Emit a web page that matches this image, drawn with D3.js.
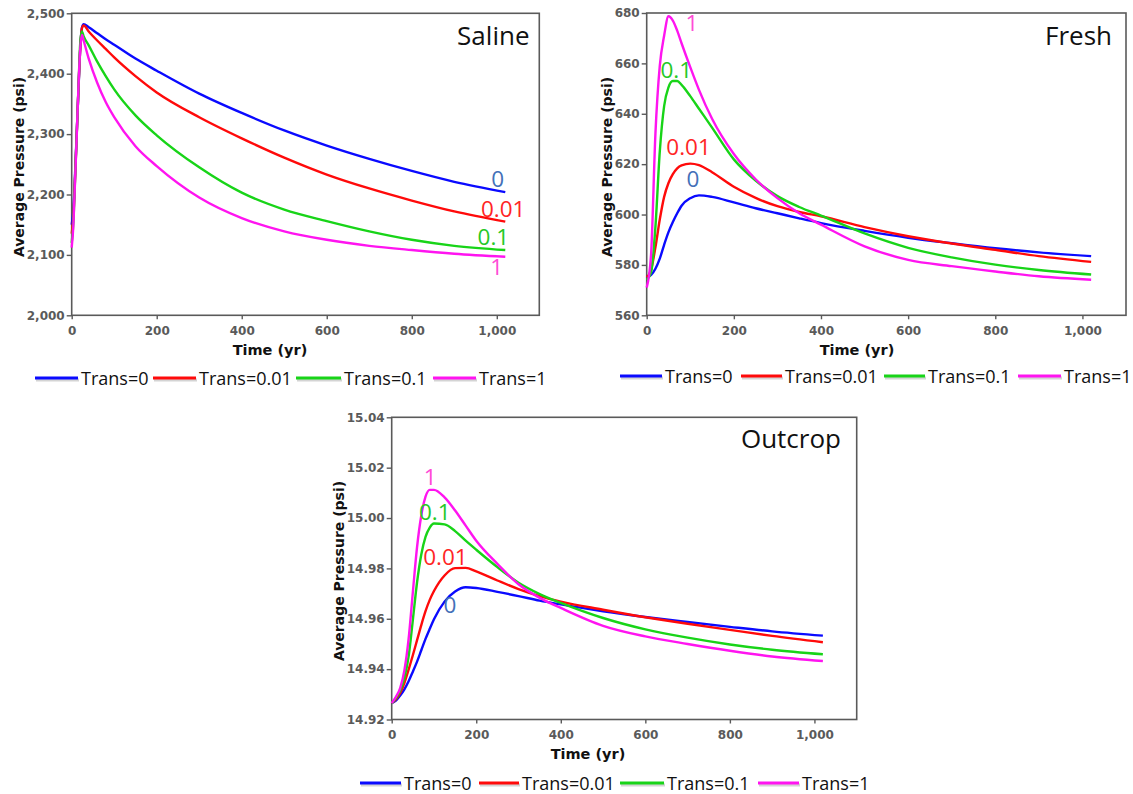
<!DOCTYPE html>
<html>
<head>
<meta charset="utf-8">
<script src="https://cdn.jsdelivr.net/npm/d3@7"></script>
<style>
  html, body { margin: 0; padding: 0; background: #ffffff; }
  svg { display: block; }
</style>
</head>
<body>
<svg id="chart" width="1133" height="794"></svg>
<script>
// ---- data -------------------------------------------------------------
const seriesNames = ["Trans=0", "Trans=0.01", "Trans=0.1", "Trans=1"];
const seriesTags  = ["0", "0.01", "0.1", "1"];
const xTicks = [0, 200, 400, 600, 800, 1000];

// Saline aquifer
const salineTime = [0, 4, 8, 12, 16, 20, 24, 28, 40, 60, 80, 100, 150, 200, 300, 400, 500, 600, 700, 800, 900, 1020];
const salineTrans0   = [2150, 2175, 2235, 2305, 2375, 2440, 2476, 2482, 2477, 2467, 2457, 2448, 2425, 2405, 2367, 2335, 2306, 2281, 2259, 2239, 2221, 2204];
const salineTrans001 = [2135, 2165, 2230, 2303, 2377, 2440, 2475, 2480, 2470, 2455, 2441, 2427, 2396, 2369, 2328, 2293, 2261, 2233, 2210, 2190, 2172, 2155];
const salineTrans01  = [2120, 2155, 2228, 2302, 2378, 2450, 2470, 2462, 2447, 2420, 2396, 2374, 2331, 2298, 2245, 2203, 2175, 2156, 2139, 2125, 2115, 2108];
const salineTrans1   = [2112, 2150, 2225, 2300, 2380, 2440, 2464, 2455, 2425, 2385, 2353, 2328, 2280, 2247, 2195, 2161, 2139, 2125, 2115, 2108, 2102, 2097];
const salineYTicks = [2000, 2100, 2200, 2300, 2400, 2500];

// Fresh-water aquifer
const freshTime = [0, 10, 20, 30, 40, 50, 60, 70, 80, 100, 120, 150, 200, 250, 300, 350, 400, 500, 600, 700, 800, 900, 1020];
const freshTrans0   = [575, 576, 578.5, 582.5, 588, 593, 597, 600.5, 603.5, 606.5, 607.6, 607, 604.8, 602.5, 600.5, 598.5, 596.6, 593.5, 590.8, 588.6, 586.6, 585, 583.5];
const freshTrans001 = [575, 578, 587, 598, 607, 612.5, 616, 618.3, 619.5, 620.2, 619.6, 616.8, 611, 606.6, 603.3, 601, 599.3, 595, 591.4, 588.5, 586, 583.5, 581.2];
const freshTrans01  = [574, 577, 595, 625, 643, 650.5, 653, 653, 651.5, 647, 642, 634.5, 621.9, 613.5, 607.3, 603, 599.6, 592.5, 586.8, 583, 580.1, 578, 576.2];
const freshTrans1   = [571, 584, 632, 659, 671, 678.7, 677, 673, 668, 658.5, 649.5, 638, 624, 614, 606.5, 600.5, 596, 587.4, 582, 579.5, 577.4, 575.5, 574.1];
const freshYTicks = [560, 580, 600, 620, 640, 660, 680];

// Outcrop
const outcropTime = [0, 10, 20, 30, 40, 50, 60, 70, 80, 90, 100, 125, 150, 175, 200, 250, 300, 350, 400, 500, 600, 700, 800, 900, 1020];
const outcropTrans0   = [14.9265, 14.9275, 14.9295, 14.932, 14.9352, 14.939, 14.943, 14.9475, 14.952, 14.956, 14.9598, 14.9668, 14.9708, 14.9725, 14.9722, 14.9707, 14.969, 14.9672, 14.9657, 14.963, 14.9607, 14.9587, 14.9568, 14.955, 14.9533];
const outcropTrans001 = [14.9265, 14.928, 14.9305, 14.9345, 14.9398, 14.9455, 14.9515, 14.9575, 14.963, 14.9675, 14.971, 14.9772, 14.9801, 14.9802, 14.9788, 14.9752, 14.9718, 14.969, 14.9668, 14.9636, 14.9606, 14.958, 14.9556, 14.9532, 14.9507];
const outcropTrans01  = [14.9265, 14.9285, 14.9315, 14.9365, 14.945, 14.9595, 14.9745, 14.9855, 14.9925, 14.9962, 14.9978, 14.9975, 14.9948, 14.991, 14.9874, 14.9805, 14.9743, 14.9698, 14.9663, 14.9603, 14.9558, 14.9525, 14.9498, 14.9477, 14.9459];
const outcropTrans1   = [14.9265, 14.929, 14.9325, 14.9395, 14.952, 14.9705, 14.9885, 15.001, 15.0085, 15.0112, 15.0112, 15.0082, 15.003, 14.997, 14.991, 14.9818, 14.9737, 14.9683, 14.9643, 14.9572, 14.953, 14.95, 14.9473, 14.945, 14.9432];
const outcropYTicks = [14.92, 14.94, 14.96, 14.98, 15.00, 15.02, 15.04];

// ---- styling ------------------------------------------------------------
const lineColors  = ["#0a0aff", "#ff0a0a", "#18d418", "#ff14f0"];
const labelColors = ["#4470b8", "#ff2525", "#26c826", "#ff4cd6"];
const axisGrey = "#5a5a5a";
const textFont = "'Open Sans', sans-serif";
const axisFont = "'DejaVu Sans', Verdana, sans-serif";

// ---- panel layout -------------------------------------------------------
// tags: one [time, pressure] anchor per series (baseline centre), same order as seriesTags
const panels = [
  {
    title: "Saline", time: salineTime,
    values: [salineTrans0, salineTrans001, salineTrans01, salineTrans1],
    yDomain: [2000, 2500], yTicks: salineYTicks, yFormat: d3.format(","),
    box: { left: 71.7, right: 539.3, top: 13.3, bottom: 315.3 },
    titleAt: [529.5, 45],
    xTitleAt: [270, 355], yTitleAt: [19, 167],
    tags: [[1002, 2213], [1015, 2163], [992, 2117], [1000, 2067]],
    legend: { y: 378, items: [[35, 81], [153, 199], [296, 344], [433, 479]] }
  },
  {
    title: "Fresh", time: freshTime,
    values: [freshTrans0, freshTrans001, freshTrans01, freshTrans1],
    yDomain: [560, 680], yTicks: freshYTicks, yFormat: d3.format("d"),
    box: { left: 646.7, right: 1126, top: 13, bottom: 315.3 },
    titleAt: [1112, 45],
    xTitleAt: [857, 355], yTitleAt: [607, 167],
    tags: [[106, 610.8], [96, 623.6], [68, 654.3], [104, 673]],
    legend: { y: 376, items: [[620, 665], [741, 785], [884, 928], [1018, 1064]] }
  },
  {
    title: "Outcrop", time: outcropTime,
    values: [outcropTrans0, outcropTrans001, outcropTrans01, outcropTrans1],
    yDomain: [14.92, 15.04], yTicks: outcropYTicks, yFormat: d3.format(".2f"),
    box: { left: 391.7, right: 856.7, top: 417.3, bottom: 719.5 },
    titleAt: [841, 448],
    xTitleAt: [588, 759], yTitleAt: [339, 571],
    tags: [[138, 14.9623], [127, 14.9814], [102, 14.9992], [91, 15.0132]],
    legend: { y: 783, items: [[360, 404], [479, 522], [620, 667], [758, 802]] }
  }
];

const svg = d3.select("#chart");

panels.forEach(p => {
  const b = p.box;
  const x = d3.scaleLinear().domain([0, 1100]).range([b.left, b.right]);
  const y = d3.scaleLinear().domain(p.yDomain).range([b.bottom, b.top]);
  const g = svg.append("g");

  // frame
  g.append("rect")
    .attr("x", b.left).attr("y", b.top)
    .attr("width", b.right - b.left).attr("height", b.bottom - b.top)
    .attr("fill", "none").attr("stroke", axisGrey).attr("stroke-width", 1.6);

  // x axis
  const xAxis = g.append("g")
    .attr("transform", `translate(0,${b.bottom})`)
    .call(d3.axisBottom(x).tickValues(xTicks).tickFormat(d3.format(",")).tickSize(4).tickPadding(7));
  // y axis
  const yAxis = g.append("g")
    .attr("transform", `translate(${b.left},0)`)
    .call(d3.axisLeft(y).tickValues(p.yTicks).tickFormat(p.yFormat).tickSize(5).tickPadding(2));

  [xAxis, yAxis].forEach(ax => {
    ax.select(".domain").remove();
    ax.selectAll(".tick line").attr("stroke", axisGrey).attr("stroke-width", 1.4);
    ax.selectAll(".tick text")
      .attr("fill", axisGrey)
      .style("font-family", axisFont)
      .style("font-weight", "bold")
      .style("font-size", "12px");
  });

  // axis titles
  g.append("text")
    .attr("x", p.xTitleAt[0]).attr("y", p.xTitleAt[1])
    .attr("text-anchor", "middle")
    .style("font-family", axisFont).style("font-weight", "bold").style("font-size", "14.5px")
    .attr("fill", "#111")
    .text("Time (yr)");
  g.append("text")
    .attr("transform", `translate(${p.yTitleAt[0]},${p.yTitleAt[1]}) rotate(-90)`)
    .attr("text-anchor", "middle").attr("dy", "0.35em")
    .style("font-family", axisFont).style("font-weight", "bold").style("font-size", "14px")
    .attr("fill", "#111")
    .text("Average Pressure (psi)");

  // panel title
  g.append("text")
    .attr("x", p.titleAt[0]).attr("y", p.titleAt[1])
    .attr("text-anchor", "end")
    .style("font-family", textFont).style("font-size", "26px")
    .attr("fill", "#111")
    .text(p.title);

  // curves
  const line = d3.line()
    .x((d, i) => x(p.time[i]))
    .y(d => y(d))
    .curve(d3.curveMonotoneX);
  p.values.forEach((vals, k) => {
    g.append("path")
      .attr("d", line(vals))
      .attr("fill", "none")
      .attr("stroke", lineColors[k])
      .attr("stroke-width", 2.4)
      .attr("stroke-linejoin", "round");
  });

  // series tags inside the plot
  p.tags.forEach((t, k) => {
    g.append("text")
      .attr("x", x(t[0])).attr("y", y(t[1]))
      .attr("text-anchor", "middle")
      .style("font-family", textFont).style("font-size", "22.5px")
      .attr("fill", labelColors[k])
      .text(seriesTags[k]);
  });

  // legend
  const lg = g.append("g");
  p.legend.items.forEach((it, k) => {
    const x0 = it[0], x1 = it[1] - 3;
    lg.append("line")
      .attr("x1", x0 + 1).attr("x2", x1 + 1)
      .attr("y1", p.legend.y + 2).attr("y2", p.legend.y + 2)
      .attr("stroke", "#b8b8b8").attr("stroke-width", 3).attr("opacity", 0.6);
    lg.append("line")
      .attr("x1", x0).attr("x2", x1)
      .attr("y1", p.legend.y).attr("y2", p.legend.y)
      .attr("stroke", lineColors[k]).attr("stroke-width", 3.2);
    lg.append("text")
      .attr("x", it[1]).attr("y", p.legend.y + 6.5)
      .style("font-family", textFont).style("font-size", "18px")
      .attr("fill", "#111")
      .text(seriesNames[k]);
  });
});
</script>
</body>
</html>
